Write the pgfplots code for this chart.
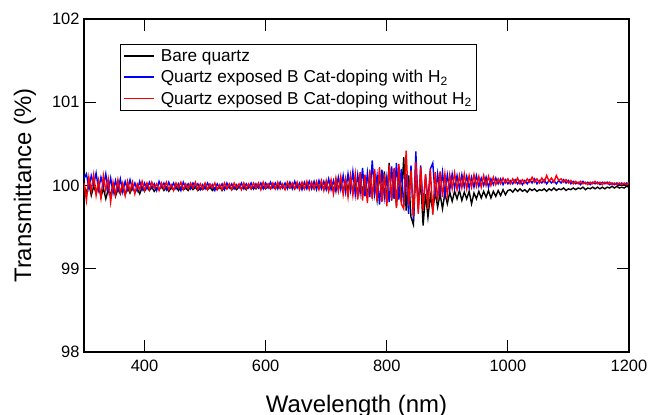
\documentclass[border=0pt]{standalone}
\usepackage{pgfplots}
\pgfplotsset{compat=1.18}
\usepackage{pgfplotstable}
\usepackage{fontspec}
\setmainfont{Liberation Sans}
\pgfplotstableread{
x k b r
300 100.01 100.08 100.03
304 99.90 100.14 99.82
308 100.03 99.97 100.10
312 99.88 100.12 99.93
316 99.99 100.01 100.13
320 99.91 100.15 99.88
324 100.02 99.95 100.06
328 99.86 100.10 99.85
332 99.97 99.99 100.12
336 99.84 100.14 99.94
340 99.95 99.93 100.08
344 99.89 100.09 99.80
348 100.00 99.91 100.04
352 99.87 100.06 99.89
356 99.96 99.94 100.07
360 99.90 100.08 99.91
364 99.99 99.92 100.03
368 99.89 100.05 99.88
372 99.97 99.95 100.05
376 99.91 100.07 99.93
380 99.98 99.96 100.04
384 99.92 100.03 99.90
388 99.96 99.94 100.02
392 99.90 100.05 99.95
396 99.98 99.95 100.05
400 99.93 100.03 99.94
404 99.99 99.96 100.03
408 99.94 100.04 99.95
412 99.98 99.97 100.04
416 99.93 100.02 99.97
420 99.97 99.94 100.02
424 99.95 100.05 99.94
428 99.99 99.98 100.03
432 99.94 100.03 99.96
436 99.98 99.95 100.04
440 99.93 100.04 99.95
444 99.97 99.97 100.01
448 99.95 100.03 99.94
452 99.99 99.96 100.03
456 99.94 100.02 99.97
460 99.98 99.94 100.04
464 99.95 100.04 99.95
468 99.97 99.97 100.02
472 99.94 100.02 99.96
476 99.99 99.96 100.03
480 99.95 100.03 99.97
484 99.98 99.98 100.04
488 99.94 100.02 99.95
492 99.97 99.95 100.02
496 99.95 100.01 99.96
500 99.99 99.96 100.03
504 99.95 100.03 99.95
508 99.98 99.97 100.02
512 99.94 100.01 99.97
516 99.97 99.94 100.03
520 99.95 100.02 99.95
524 99.99 99.97 100.01
528 99.94 100.02 99.95
532 99.98 99.95 100.03
536 99.96 100.03 99.96
540 99.99 99.97 100.02
544 99.95 100.02 99.95
548 99.98 99.96 100.03
552 99.95 100.01 99.97
556 99.99 99.97 100.02
560 99.96 100.03 99.95
564 99.98 99.96 100.03
568 99.95 100.02 99.96
572 100.00 99.97 100.02
576 99.96 100.03 99.96
580 99.98 99.96 100.03
584 99.96 100.02 99.97
588 100.00 99.97 100.03
592 99.96 100.03 99.95
596 99.99 99.96 100.04
600 99.96 100.03 99.97
604 100.01 99.97 100.02
608 99.96 100.04 99.96
612 100.00 99.97 100.03
616 99.96 100.03 99.96
620 100.01 99.96 100.04
624 99.97 100.04 99.96
628 100.00 99.97 100.02
632 99.96 100.03 99.95
636 100.01 99.96 100.04
640 99.97 100.04 99.97
644 100.00 99.96 100.03
648 99.96 100.05 99.96
652 100.02 99.97 100.04
656 99.97 100.03 99.95
660 100.01 99.95 100.04
664 99.96 100.04 99.96
668 100.02 99.96 100.05
672 99.97 100.05 99.95
676 100.02 99.96 100.04
680 99.96 100.05 99.96
684 100.03 99.95 100.05
688 99.97 100.06 99.95
692 100.02 99.96 100.06
696 99.96 100.05 99.94
700 100.03 99.95 100.06
704 99.95 100.08 99.93
708 100.04 99.95 100.07
712 99.94 100.06 99.90
716 100.06 99.93 100.09
720 99.96 100.10 99.93
724 100.04 99.95 100.11
728 99.93 100.12 99.89
732 100.07 99.92 100.08
736 99.94 100.14 99.86
740 100.09 99.94 100.12
744 99.92 100.17 99.88
748 100.06 99.89 100.14
752 99.90 100.13 99.83
756 100.11 99.91 100.16
760 99.91 100.21 99.82
764 100.08 99.87 100.13
768 99.87 100.15 99.79
772 100.13 99.86 100.18
776 99.88 100.30 99.84
780 100.10 99.90 100.20
784 99.83 100.12 99.81
788 100.14 99.77 100.22
792 99.85 100.19 99.80
796 100.17 99.86 100.14
800 99.79 100.10 99.75
804 100.27 99.80 100.24
808 99.82 100.23 99.83
812 100.18 99.84 100.21
816 99.75 100.27 99.73
820 100.22 99.83 100.26
824 99.80 100.20 99.78
828 100.34 99.76 99.72
832 99.70 100.14 100.42
836 100.12 99.66 99.76
840 99.62 100.24 100.18
844 99.53 99.59 99.63
848 100.20 100.41 100.28
852 99.76 99.70 99.66
856 100.06 100.24 100.22
860 99.52 99.74 99.70
864 99.90 100.12 100.14
868 99.62 99.82 99.72
872 99.88 100.20 100.20
876 99.70 100.27 99.65
880 99.92 99.86 100.16
884 99.74 100.14 99.82
888 99.90 99.90 100.17
892 99.72 100.16 99.86
896 99.91 99.89 100.14
900 99.78 100.13 99.88
904 99.92 99.95 100.13
908 99.81 100.14 99.96
912 99.93 99.97 100.15
916 99.84 100.12 99.95
920 99.94 99.96 100.12
924 99.82 100.13 99.97
928 99.92 99.98 100.14
932 99.84 100.11 99.96
936 99.93 99.97 100.12
940 99.78 100.10 99.98
944 99.91 99.98 100.13
948 99.84 100.12 99.99
952 99.93 99.99 100.11
956 99.85 100.09 99.98
960 99.93 100.00 100.12
964 99.86 100.10 100.00
968 99.94 99.98 100.11
972 99.85 100.08 100.00
976 99.93 100.01 100.10
980 99.87 100.09 100.01
984 99.94 100.02 100.08
988 99.88 100.08 100.02
992 99.95 100.01 100.09
996 99.89 100.07 100.03
1000 99.94 100.02 100.08
1004 99.95 100.06 100.02
1008 99.92 100.02 100.08
1012 99.96 100.07 100.03
1016 99.93 100.02 100.09
1020 99.96 100.06 100.02
1024 99.93 100.01 100.07
1028 99.95 100.06 100.03
1032 99.92 100.02 100.08
1036 99.96 100.07 100.04
1040 99.94 100.03 100.10
1044 99.96 100.08 100.04
1048 99.93 100.02 100.08
1052 99.95 100.06 100.03
1056 99.94 100.03 100.09
1060 99.96 100.07 100.04
1064 99.93 100.02 100.12
1068 99.96 100.06 100.05
1072 99.94 100.03 100.09
1076 99.97 100.06 100.04
1080 99.94 100.02 100.12
1084 99.96 100.06 100.06
1088 99.95 100.03 100.08
1092 99.97 100.07 100.04
1096 99.94 100.03 100.07
1100 99.96 100.06 100.03
1104 99.95 100.02 100.06
1108 99.97 100.05 100.02
1112 99.95 100.02 100.05
1116 99.97 100.04 100.02
1120 99.96 100.01 100.05
1124 99.98 100.05 100.02
1128 99.95 100.02 100.04
1132 99.97 100.04 100.01
1136 99.96 100.01 100.04
1140 99.98 100.04 100.02
1144 99.96 100.02 100.05
1148 99.98 100.04 100.02
1152 99.96 100.01 100.04
1156 99.98 100.04 100.01
1160 99.96 100.02 100.04
1164 99.98 100.04 100.02
1168 99.97 100.01 100.04
1172 99.99 100.03 100.01
1176 99.97 100.01 100.03
1180 99.99 100.03 100.01
1184 99.97 100.01 100.03
1188 99.98 100.03 100.01
1192 99.97 100.01 100.03
1196 99.99 100.03 100.01
1200 99.98 100.02 100.03
}\data
\definecolor{myblue}{RGB}{0,0,255}
\definecolor{myred}{RGB}{255,0,0}
\begin{document}
\begin{tikzpicture}
\begin{axis}[
  at={(0,0)}, anchor=south west,
  scale only axis,
  width=545bp, height=333bp,
  xmin=300, xmax=1200, ymin=98, ymax=102,
  xtick={400,600,800,1000,1200},
  ytick={98,99,100,101,102},
  minor tick num=0,
  tick align=inside,
  major tick length=12bp,
  axis line style={line width=1.2bp},
  every tick/.style={black, line width=1.1bp},
  /pgf/number format/assume math mode=true,
  /pgf/number format/1000 sep={},
  tick label style={font=\fontsize{16.5}{19}\selectfont},
  xticklabel style={yshift=-5bp},
  yticklabel style={xshift=-1bp},
  label style={font=\fontsize{24}{28}\selectfont},
  xlabel={Wavelength (nm)},
  ylabel={Transmittance (\%)},
  xlabel style={at={(rel axis cs:0.5,0)}, anchor=base, yshift=-60bp},
  ylabel style={at={(rel axis cs:0,0.5)}, anchor=center, yshift=59bp},
  legend style={at={(rel axis cs:0.066,0.925)}, anchor=north west,
    draw=black, line width=0.8bp, font=\fontsize{17.3}{21}\selectfont,
    row sep=3.5bp, inner xsep=3bp, inner ysep=3bp},
  legend cell align=left,
  legend image code/.code={\draw[#1, line width=1.5bp] (0bp,0bp) -- (30bp,0bp); \path (34bp,0bp);},
]
\addplot[black, line width=1.4bp] table[x=x, y=k] {\data};
\addplot[myblue, line width=1.4bp] table[x=x, y=b] {\data};
\addplot[myred, line width=1.4bp] table[x=x, y=r] {\data};
\legend{Bare quartz, Quartz exposed B Cat-doping with H\textsubscript{2}, Quartz exposed B Cat-doping without H\textsubscript{2}}
\end{axis}
\pgfresetboundingbox
\path[use as bounding box] (-84bp,-63bp) rectangle (576bp,352bp);
\end{tikzpicture}
\end{document}
